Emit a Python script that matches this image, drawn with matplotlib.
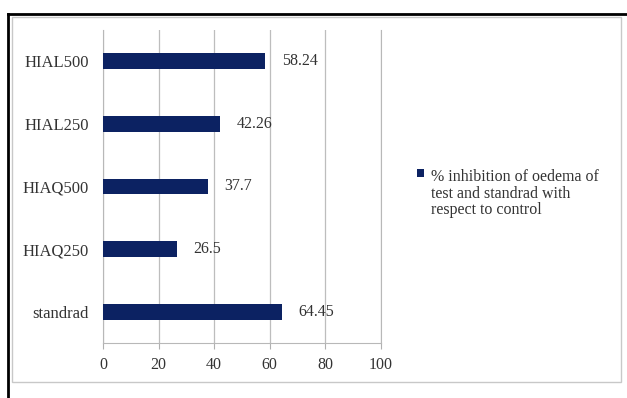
import matplotlib
matplotlib.use("Agg")
import matplotlib.pyplot as plt
from matplotlib.patches import Rectangle
from matplotlib.lines import Line2D

categories = ["standrad", "HIAQ250", "HIAQ500", "HIAL250", "HIAL500"]
values = [64.45, 26.5, 37.7, 42.26, 58.24]
value_labels = ["64.45", "26.5", "37.7", "42.26", "58.24"]
xticks = [0, 20, 40, 60, 80, 100]
series_name = "% inhibition of oedema of\ntest and standrad with\nrespect to control"

plt.rcParams['font.family'] = ['Liberation Serif', 'DejaVu Serif']
W, H = 627, 398
fig = plt.figure(figsize=(W/100, H/100), dpi=100)
fig.patch.set_facecolor("white")

# outer black frame (top and left)
fig.add_artist(Line2D([8/W, 1], [1-14/H, 1-14/H], color="black", lw=2, transform=fig.transFigure))
fig.add_artist(Line2D([8/W, 8/W], [0, 1-14/H], color="black", lw=2, transform=fig.transFigure))
# inner grey chart border
fig.add_artist(Rectangle((12/W, 1-382/H), (621-12)/W, (382-17)/H, fill=False,
                         edgecolor="#c8c8c8", lw=1, transform=fig.transFigure))

x0, x1, y0, y1 = 103, 381, 30, 343
ax = fig.add_axes([x0/W, 1-y1/H, (x1-x0)/W, (y1-y0)/H])
color = "#0c2262"
bars = ax.barh(range(len(categories)), values, height=0.25, color=color, zorder=3,
               label=series_name)
ax.set_xlim(0, 100)
ax.set_ylim(-0.5, len(categories)-0.5)
ax.set_xticks(xticks)
ax.set_xticklabels([str(t) for t in xticks])
ax.set_yticks(range(len(categories)))
ax.set_yticklabels(categories)
ax.grid(axis="x", color="#bdbdbd", lw=0.9, zorder=0)
ax.spines["top"].set_visible(False)
for s in ["left", "bottom", "right"]:
    ax.spines[s].set_color("#b8b8b8")
ax.tick_params(axis="x", length=4, color="#b0b0b0", labelsize=11.5, pad=6, labelcolor="#333333")
ax.tick_params(axis="y", length=0, labelsize=12, pad=10, labelcolor="#333333")

for i, (v, lab) in enumerate(zip(values, value_labels)):
    ax.text(v + 6, i, lab, va="center", ha="left", fontsize=11.5, color="#333333")

leg = fig.legend(handles=[bars], labels=[series_name], loc="upper left",
                 bbox_to_anchor=(417/W, 1-169/H), frameon=False, fontsize=11.5,
                 handlelength=0.42, handleheight=0.42, handletextpad=0.45,
                 borderpad=0, borderaxespad=0, labelspacing=0)
for t in leg.get_texts():
    t.set_color("#333333")
    t.set_linespacing(1.05)
for col in leg._legend_handle_box.get_children():
    for item in col.get_children():
        item.align = "top"

fig.savefig("out.png", dpi=100, facecolor="white")
